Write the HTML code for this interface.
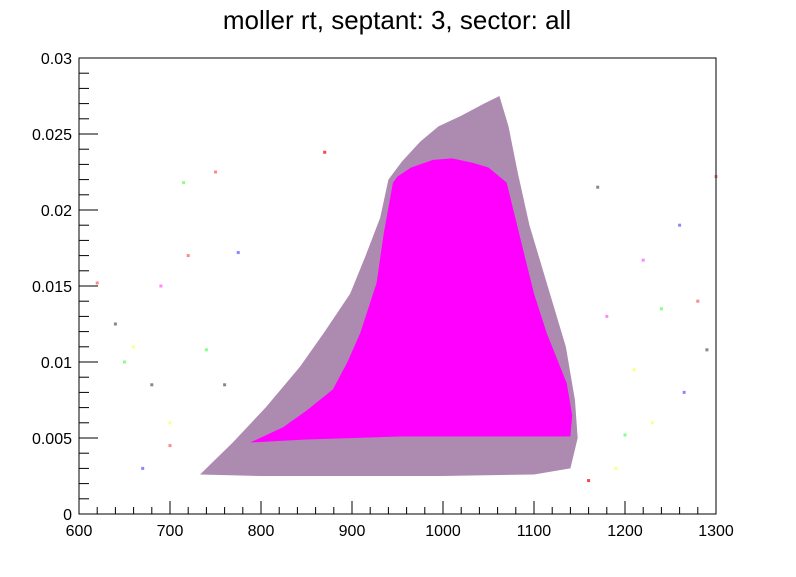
<!DOCTYPE html>
<html><head><meta charset="utf-8"><style>
body{margin:0;background:#fff;font-family:"Liberation Sans",sans-serif}
svg text{font-family:"Liberation Sans",sans-serif}
</style></head><body>
<svg id="c" width="796" height="572" xmlns="http://www.w3.org/2000/svg">
<rect width="796" height="572" fill="#fff"/>
<text x="397" y="29" font-size="26" text-anchor="middle">moller rt, septant: 3, sector: all</text>
<g id="plot"></g>
<rect x="79" y="58" width="637" height="456" fill="none" stroke="#000" stroke-width="1"/>
<g id="axes"></g>
</svg>
<script>
const xTicks=[600,700,800,900,1000,1100,1200,1300];
const yTicks=[0,0.005,0.01,0.015,0.02,0.025,0.03];
const yTickLabels=["0","0.005","0.01","0.015","0.02","0.025","0.03"];
const haloX=[733,800,900,1000,1100,1140,1148,1145,1135,1115,1095,1082,1072,1062,1045,1020,995,975,955,940,931,915,898,870,843,805,769];
const haloY=[0.0026,0.0025,0.0025,0.0025,0.0026,0.0030,0.005,0.0075,0.011,0.015,0.019,0.0225,0.0255,0.0275,0.027,0.0262,0.0255,0.0245,0.0232,0.0220,0.0195,0.0170,0.0145,0.0120,0.0097,0.0070,0.0047];
const coreX=[788,850,953,1050,1140,1142,1136,1114,1100,1088,1070,1050,1033,1010,989,965,950,945,935,927,909,895,879,850,824];
const coreY=[0.0047,0.0049,0.0051,0.0051,0.0051,0.0065,0.0086,0.0119,0.0145,0.0174,0.0218,0.0228,0.0231,0.0234,0.0233,0.0228,0.0222,0.0218,0.0185,0.0152,0.0119,0.0100,0.0082,0.0068,0.0057];
const outX=[620,640,660,690,715,750,775,870,680,700,740,1160,1190,1220,1240,1260,1280,1300,1290,1230,1170,1200,670,720,760,1180,1210,650,700,1265];
const outY=[0.0152,0.0125,0.011,0.015,0.0218,0.0225,0.0172,0.0238,0.0085,0.0060,0.0108,0.0022,0.0030,0.0167,0.0135,0.0190,0.0140,0.0222,0.0108,0.0060,0.0215,0.0052,0.0030,0.0170,0.0085,0.0130,0.0095,0.0100,0.0045,0.0080];
const outC=["#f88","#888","#ff8","#f8f","#8f8","#f88","#88f","#f44","#888","#ff8","#8f8","#f44","#ff8","#f8f","#8f8","#88f","#f88","#f88","#888","#ff8","#888","#8f8","#88f","#f88","#888","#f8f","#ff8","#8f8","#f88","#88f"];
const X=v=>79+(v-600)/700*637, Y=v=>514-v/0.03*456;
const ns="http://www.w3.org/2000/svg",plot=document.getElementById('plot'),axes=document.getElementById('axes');
function poly(xs,ys,fill,op,name){const p=document.createElementNS(ns,'polygon');
p.setAttribute('points',xs.map((x,i)=>X(x)+','+Y(ys[i])).join(' '));p.setAttribute('fill',fill);p.setAttribute('fill-opacity',op);p.setAttribute('stroke-linejoin','round');


plot.appendChild(p);}
poly(haloX,haloY,'#8a5a90',0.7,'scatter-halo');
poly(coreX,coreY,'#ff00ff',1,'scatter-core');
outX.forEach((x,i)=>{const r=document.createElementNS(ns,'rect');r.setAttribute('x',X(x)-1.5);r.setAttribute('y',Y(outY[i])-1.5);r.setAttribute('width',3);r.setAttribute('height',3);r.setAttribute('fill',outC[i]);


plot.appendChild(r);});
function line(x1,y1,x2,y2){const l=document.createElementNS(ns,'line');l.setAttribute('x1',x1);l.setAttribute('y1',y1);l.setAttribute('x2',x2);l.setAttribute('y2',y2);l.setAttribute('stroke','#000');


axes.appendChild(l);}
function txt(x,y,s,a,name){const t=document.createElementNS(ns,'text');t.setAttribute('x',x);t.setAttribute('y',y);t.setAttribute('font-size','16');t.setAttribute('text-anchor',a);t.textContent=s;


axes.appendChild(t);}
for(let v=600;v<=1300;v+=20){const m=(v%100===0);line(X(v),514,X(v),514-(m?13:7));}
for(let i=0;i<=30;i++){const v=i*0.001,m=(i%5===0);line(79,Y(v),79+(m?19:10),Y(v));}
xTicks.forEach(v=>txt(X(v),536,String(v),'middle','x-tick-label'));
yTicks.forEach((v,i)=>txt(72,Y(v)+6,yTickLabels[i],'end','y-tick-label'));
</script>
</body></html>
